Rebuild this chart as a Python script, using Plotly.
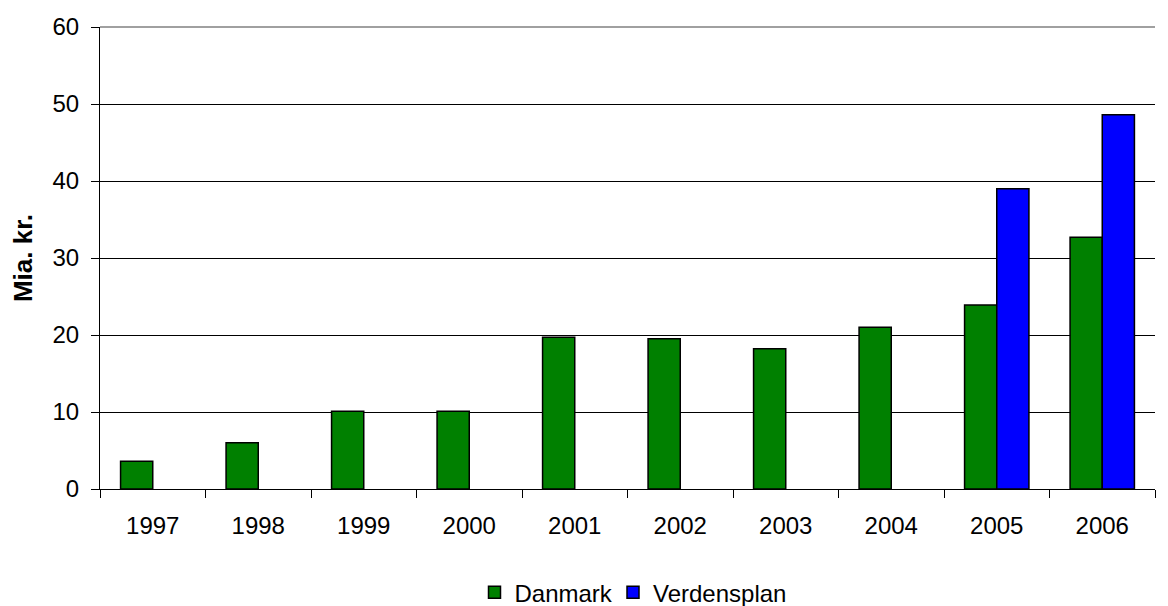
import plotly.graph_objects as go

years = ["1997", "1998", "1999", "2000", "2001", "2002", "2003", "2004", "2005", "2006"]
danmark = [3.6, 6.0, 10.1, 10.1, 19.7, 19.5, 18.2, 21.0, 23.9, 32.7]
verdensplan = [None, None, None, None, None, None, None, None, 39.0, 48.6]
y_ticks = [0, 10, 20, 30, 40, 50, 60]

FONT = "Liberation Sans, Arial, sans-serif"

fig = go.Figure()
fig.add_trace(go.Bar(name="Danmark", x=years, y=danmark, legend="legend",
                     marker=dict(color="#008000", line=dict(color="black", width=1.5))))
fig.add_trace(go.Bar(name="Verdensplan", x=years, y=verdensplan, legend="legend2",
                     marker=dict(color="#0000FF", line=dict(color="black", width=1.5))))

leg_common = dict(orientation="h", xref="container", yref="container",
                  xanchor="left", y=0.022, yanchor="middle",
                  font=dict(size=24), itemwidth=30, bgcolor="rgba(0,0,0,0)")

fig.update_layout(
    width=1168, height=606,
    margin=dict(l=100, r=13, t=27, b=117),
    paper_bgcolor="white", plot_bgcolor="white",
    barmode="group", bargap=0.39, bargroupgap=0,
    font=dict(family=FONT, size=24, color="black"),
    showlegend=True,
    legend=dict(x=474.5 / 1168, **leg_common),
    legend2=dict(x=613.0 / 1168, **leg_common),
    shapes=[dict(type="line", xref="paper", yref="paper", x0=0, x1=1, y0=1, y1=1,
                 line=dict(color="#808080", width=1.5), layer="above")],
)
fig.update_xaxes(
    type="category", tickson="boundaries", ticks="outside", ticklen=8,
    tickcolor="black", tickwidth=1, showline=True, linecolor="black", linewidth=1,
    showgrid=False, tickfont=dict(size=24), ticklabelstandoff=15,
)
fig.update_yaxes(
    range=[0, 60], tickvals=y_ticks, ticks="outside", ticklen=8, tickcolor="black",
    showline=True, linecolor="black", linewidth=1,
    showgrid=True, gridcolor="black", gridwidth=1, zeroline=False,
    tickfont=dict(size=24), ticklabelstandoff=7,
    title=dict(text="<b>Mia. kr.</b>", font=dict(size=26), standoff=12),
)

fig.write_html("out.html", config={"displayModeBar": False},
               post_script="document.body.style.margin='0';")
